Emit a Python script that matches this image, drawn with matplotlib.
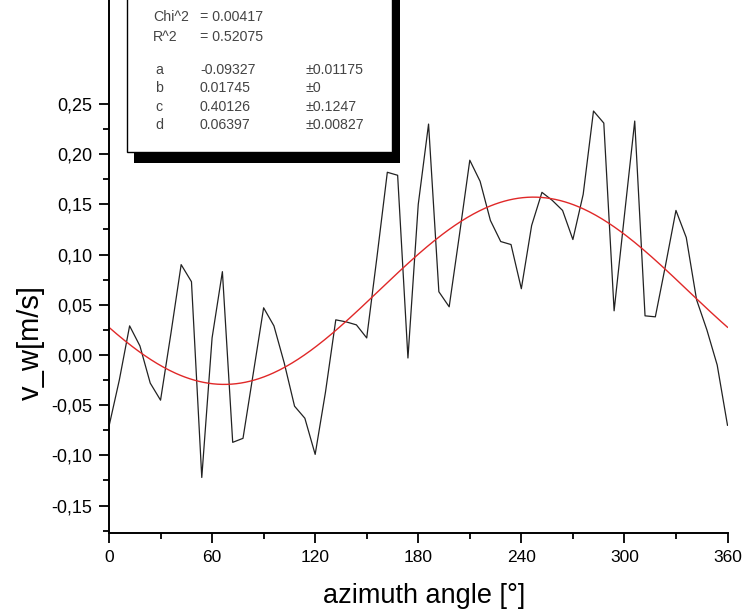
import numpy as np
import matplotlib
matplotlib.use("Agg")
import matplotlib.pyplot as plt
from matplotlib.patches import Rectangle
from matplotlib.ticker import FixedLocator, FuncFormatter

plt.rcParams['font.family'] = ['Liberation Sans', 'DejaVu Sans']

# measured wind component vs azimuth (6 deg steps)
azimuth = np.arange(0, 361, 6)
v_w = [-0.071, -0.025, 0.029, 0.009, -0.028, -0.045, 0.021, 0.090, 0.073, -0.122,
       0.017, 0.083, -0.087, -0.083, -0.018, 0.047, 0.029, -0.008, -0.051, -0.063,
       -0.099, -0.037, 0.035, 0.033, 0.030, 0.017, 0.098, 0.182, 0.179, -0.003,
       0.150, 0.230, 0.063, 0.048, 0.120, 0.194, 0.173, 0.134, 0.113, 0.110,
       0.066, 0.129, 0.162, 0.154, 0.144, 0.115, 0.160, 0.243, 0.231, 0.044,
       0.139, 0.233, 0.039, 0.038, 0.090, 0.144, 0.117, 0.055, 0.025, -0.010,
       -0.070]

# fit y = d + a*sin(b*x + c)
chi2 = 0.00417
r2 = 0.52075
fit_names = ['a', 'b', 'c', 'd']
fit_vals = [-0.09327, 0.01745, 0.40126, 0.06397]
fit_errs = ['0.01175', '0', '0.1247', '0.00827']

W, H = 743, 611
fig = plt.figure(figsize=(W / 100, H / 100), dpi=100)

def fx(px):
    return px / W

def fy(py):
    return 1 - py / H

y0, y1 = -0.1773, 0.38
ax_h = (y1 - y0) * 1004 / H
ax = fig.add_axes([fx(109), fy(533), fx(727.5) - fx(109), ax_h])

ax.plot(azimuth, v_w, color='#222222', lw=0.9)
a, b, c, d = fit_vals
xf = np.linspace(0, 360, 400)
ax.plot(xf, d + a * np.sin(b * xf + c), color='#e02828', lw=1.0)

ax.set_xlim(0, 360)
ax.set_ylim(y0, y1)
for s in ['top', 'right']:
    ax.spines[s].set_visible(False)
for s in ['left', 'bottom']:
    ax.spines[s].set_linewidth(1.4)

ax.xaxis.set_major_locator(FixedLocator(range(0, 361, 60)))
ax.xaxis.set_minor_locator(FixedLocator(range(30, 360, 60)))
ax.yaxis.set_major_locator(FixedLocator(np.arange(-0.15, 0.26, 0.05)))
ax.yaxis.set_minor_locator(FixedLocator(np.arange(-0.175, 0.23, 0.05)))
ax.yaxis.set_major_formatter(FuncFormatter(lambda v, p: f"{v:.2f}".replace('.', ',').replace('-0,00', '0,00')))
ax.tick_params(which='major', direction='out', length=7, width=1.3, pad=5)
ax.tick_params(axis='x', labelsize=12.5)
ax.tick_params(axis='y', labelsize=13)
ax.tick_params(which='minor', direction='out', length=4.3, width=1.3)

fig.text(fx(424), fy(596), 'azimuth angle [°]', fontsize=19.5, ha='center', va='center')
fig.text(fx(31), fy(342), 'v_w[m/s]', fontsize=21, rotation=90, ha='center', va='center')

# parameter box with drop shadow
fig.patches.append(Rectangle((fx(134), fy(163)), fx(400) - fx(134), fy(-20) - fy(163),
                             transform=fig.transFigure, facecolor='black', edgecolor='none', zorder=2))
fig.patches.append(Rectangle((fx(127), fy(152)), fx(392) - fx(127), fy(-20) - fy(152),
                             transform=fig.transFigure, facecolor='white', edgecolor='black',
                             lw=1.0, zorder=3))

tc = '#444444'
fs = 10.2
fig.text(fx(153), fy(17), 'Chi^2', fontsize=fs, color=tc, va='center', zorder=4)
fig.text(fx(200), fy(17), f'= {chi2:.5f}', fontsize=fs, color=tc, va='center', zorder=4)
fig.text(fx(153), fy(37), 'R^2', fontsize=fs, color=tc, va='center', zorder=4)
fig.text(fx(200), fy(37), f'= {r2:.5f}', fontsize=fs, color=tc, va='center', zorder=4)
rows_y = [70, 88, 107, 125]
for name, val, err, ry in zip(fit_names, fit_vals, fit_errs, rows_y):
    fig.text(fx(155), fy(ry), name, fontsize=fs, color=tc, va='center', zorder=4)
    fig.text(fx(200), fy(ry), f'{val:.5f}', fontsize=fs, color=tc, va='center', zorder=4)
    fig.text(fx(306), fy(ry), '±' + err, fontsize=fs, color=tc, va='center', zorder=4)

fig.savefig('out.png', dpi=100)
